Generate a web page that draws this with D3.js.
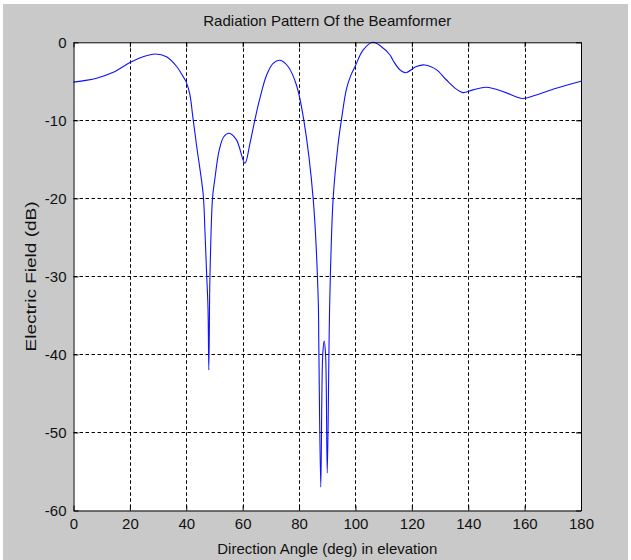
<!DOCTYPE html>
<html>
<head>
<meta charset="utf-8">
<script src="https://cdn.jsdelivr.net/npm/d3@7"></script>
<style>
  html, body { margin: 0; padding: 0; background: #ffffff; }
  svg { display: block; }
  text { font-family: "Liberation Sans", Arial, Helvetica, sans-serif; fill: #111; }
</style>
</head>
<body>
<svg id="chart" width="631" height="560"></svg>
<script>
// Beamformer radiation pattern: electric field (dB) versus elevation angle (deg)
const angles = [0, 8.2, 14.1, 20, 24.7, 29, 33, 36.6, 38.9, 40, 41.3, 42.3, 43.6, 46, 46.6, 47.2, 47.7, 48, 48.3, 48.4, 49.3,
  50.1, 51.7, 53.3, 55.2, 57.8, 60.8, 62.5, 64.3, 66.1, 68.5, 70.8, 73.2, 76.1, 79.1, 81.7, 85, 86.8, 87.0, 87.7, 88.4,
  88.9, 89.4, 90.0, 90.9, 92.1, 93.8, 95, 96.8, 98.3, 100, 102.7, 106.2, 109, 112.2, 113.3, 115.7, 117.8, 121.6, 124.6,
  128.7, 132.2, 135.8, 138.1, 141.7, 146.4, 152.3, 157.1, 159.4, 164.1, 171.2, 180];
const fieldDb = [-5.1, -4.6, -3.85, -2.6, -1.85, -1.5, -1.85, -3.1, -4.4, -5.1, -6.75, -9.5, -13.1, -19.5, -24, -29.5, -34, -42, -32, -30, -20,
  -17.6, -13.8, -12.1, -11.65, -12.5, -15.5, -13.1, -10, -7.2, -4.2, -2.7, -2.3, -3.1, -5.5, -10, -20, -33, -38.5, -57, -40,
  -38.3, -40, -55.2, -33, -20, -13.2, -10, -6.0, -4.3, -3.0, -1.0, 0, -0.5, -1.6, -2.3, -3.5, -3.9, -3.1, -2.9,
  -3.5, -4.8, -6.0, -6.45, -6.1, -5.77, -6.3, -7.0, -7.2, -6.75, -5.9, -5.0];

const xTicks = [0, 20, 40, 60, 80, 100, 120, 140, 160, 180];
const yTicks = [0, -10, -20, -30, -40, -50, -60];

const titleText = "Radiation Pattern Of the Beamformer";
const xLabelText = "Direction Angle (deg) in elevation";
const yLabelText = "Electric Field (dB)";

const svg = d3.select("#chart");
const plotLeft = 73.5, plotRight = 581, plotTop = 42.3, plotBottom = 510.5;

// figure panel
svg.append("rect").attr("x", 3).attr("y", 4).attr("width", 625).attr("height", 556).attr("fill", "#c9c9c9");
// axes area
svg.append("rect").attr("x", plotLeft).attr("y", plotTop).attr("width", plotRight - plotLeft)
  .attr("height", plotBottom - plotTop).attr("fill", "#ffffff");

const x = d3.scaleLinear().domain([0, 180]).range([plotLeft, plotRight]);
const y = d3.scaleLinear().domain([-60, 0]).range([plotBottom, plotTop]);

// dotted grid
const grid = svg.append("g").attr("stroke", "#000").attr("stroke-width", 1).attr("stroke-dasharray", "3.5,2.5");
grid.selectAll("line.v").data(xTicks.slice(1, -1)).join("line")
  .attr("x1", d => Math.round(x(d)) + 0.5).attr("x2", d => Math.round(x(d)) + 0.5)
  .attr("y1", plotTop).attr("y2", plotBottom);
grid.selectAll("line.h").data(yTicks.slice(1, -1)).join("line")
  .attr("y1", d => Math.round(y(d)) + 0.5).attr("y2", d => Math.round(y(d)) + 0.5)
  .attr("x1", plotLeft).attr("x2", plotRight);

// pattern curve
const line = d3.line().x((d, i) => x(angles[i])).y(d => y(d)).curve(d3.curveCatmullRom.alpha(0.5));
svg.append("path").datum(fieldDb).attr("d", line)
  .attr("fill", "none").attr("stroke", "#1010ff").attr("stroke-width", 1.1);

// axes with inward ticks
const fmt = d => String(d);
const axB = svg.append("g").attr("transform", `translate(0,${plotBottom})`)
  .call(d3.axisBottom(x).tickValues(xTicks).tickFormat(fmt).tickSizeInner(-5).tickSizeOuter(0).tickPadding(8));
const axL = svg.append("g").attr("transform", `translate(${plotLeft},0)`)
  .call(d3.axisLeft(y).tickValues(yTicks).tickFormat(fmt).tickSizeInner(-5).tickSizeOuter(0).tickPadding(7));
const axT = svg.append("g").attr("transform", `translate(0,${plotTop})`)
  .call(d3.axisTop(x).tickValues(xTicks).tickFormat("").tickSizeInner(-5).tickSizeOuter(0));
const axR = svg.append("g").attr("transform", `translate(${plotRight},0)`)
  .call(d3.axisRight(y).tickValues(yTicks).tickFormat("").tickSizeInner(-5).tickSizeOuter(0));

[axB, axL, axT, axR].forEach(a => {
  a.selectAll(".domain").attr("stroke", "#000");
  a.selectAll(".tick line").attr("stroke", "#000");
  a.selectAll("text").attr("font-family", "'Liberation Sans', Arial, sans-serif")
    .attr("font-size", 15).attr("fill", "#111");
});

// title and axis labels
svg.append("text").attr("x", (plotLeft + plotRight) / 2).attr("y", 26).attr("text-anchor", "middle")
  .attr("font-size", 15).attr("textLength", 248).attr("lengthAdjust", "spacingAndGlyphs").text(titleText);
svg.append("text").attr("x", (plotLeft + plotRight) / 2).attr("y", 554).attr("text-anchor", "middle")
  .attr("font-size", 15).attr("textLength", 220).attr("lengthAdjust", "spacingAndGlyphs").text(xLabelText);
svg.append("text").attr("transform", `translate(36,${(plotTop + plotBottom) / 2}) rotate(-90)`).attr("text-anchor", "middle")
  .attr("font-size", 15).attr("textLength", 150).attr("lengthAdjust", "spacingAndGlyphs").text(yLabelText);
</script>
</body>
</html>
